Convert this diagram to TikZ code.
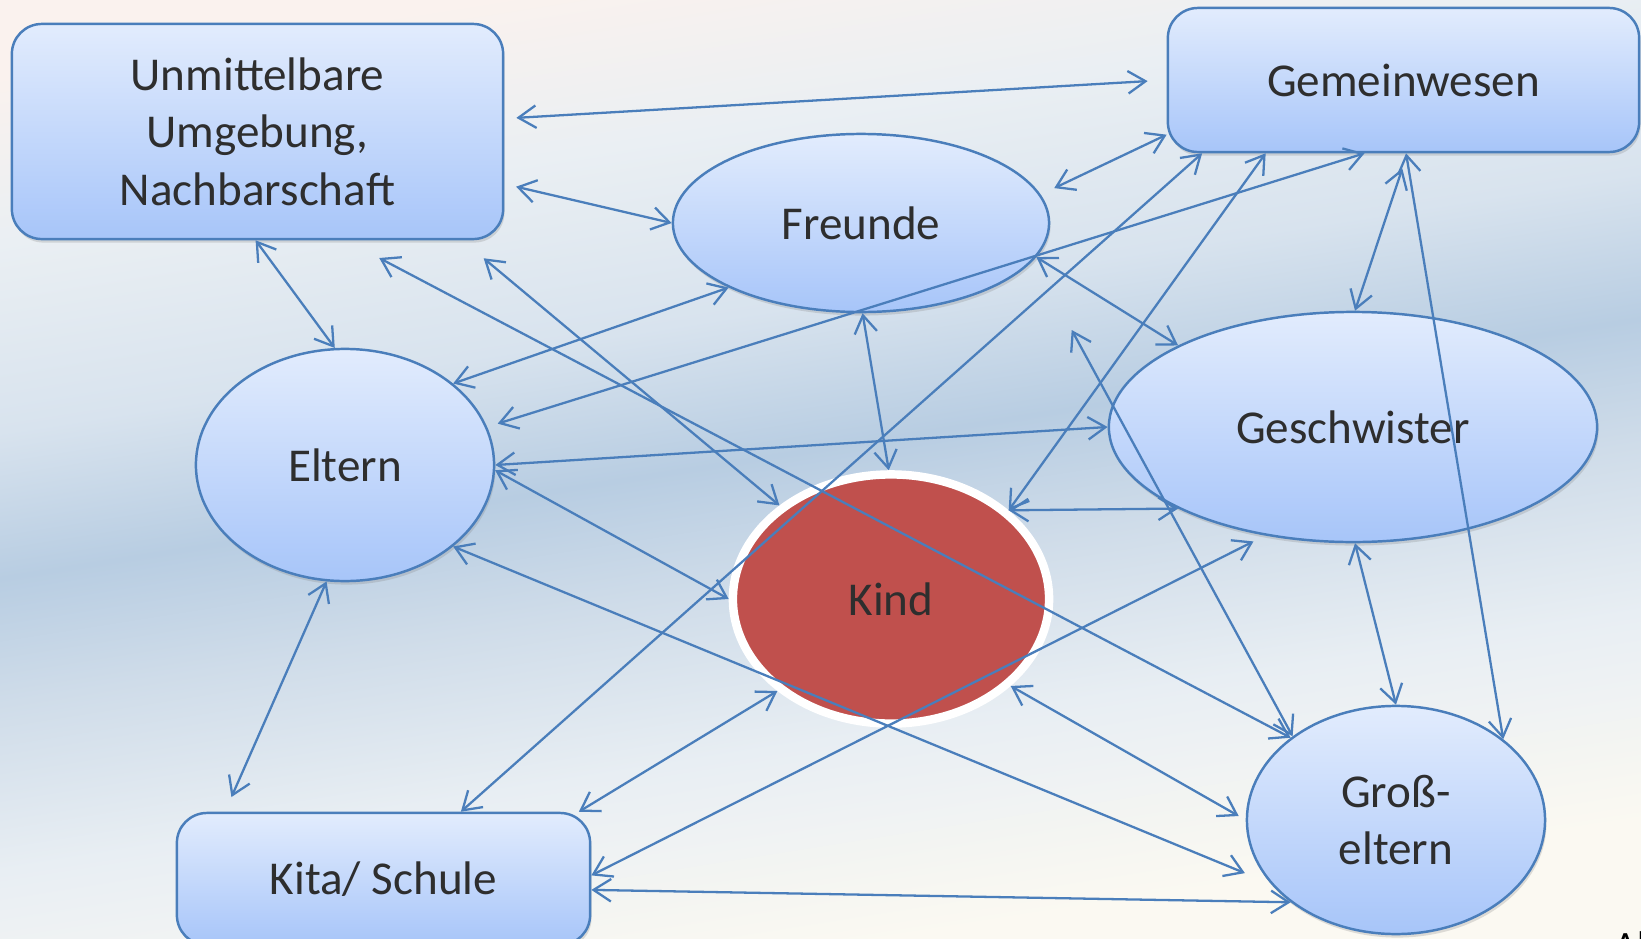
\documentclass[tikz,border=0pt]{standalone}
\usepackage{fontspec}
\setmainfont{Carlito}
\usetikzlibrary{arrows.meta,shadows,shapes.geometric}

\definecolor{bgtop}{HTML}{FAF2EE}
\definecolor{bghigh}{HTML}{D8E3EE}
\definecolor{bgmix}{HTML}{EAEFF3}
\definecolor{bgband}{HTML}{B8CDE2}
\definecolor{bglow}{HTML}{CFDCE9}
\definecolor{bglowmix}{HTML}{E8EEF3}
\definecolor{bgbot}{HTML}{FBF9F2}
\definecolor{nodetop}{HTML}{E2ECFD}
\definecolor{nodebot}{HTML}{A7C5F9}
\definecolor{nodeline}{HTML}{4A7EBB}
\definecolor{linkblue}{HTML}{4A7EBB}
\definecolor{kindred}{HTML}{C0504D}
\definecolor{txt}{HTML}{2E2E2E}

\pgfdeclareverticalshading{bgshade}{100bp}{color(0bp)=(bgbot); color(27bp)=(bgbot);
  color(37bp)=(bglowmix); color(45bp)=(bglow); color(51bp)=(bgband);
  color(58bp)=(bghigh); color(67bp)=(bgmix); color(75bp)=(bgtop); color(100bp)=(bgtop)}

\begin{document}
\begin{tikzpicture}[
  x=0.01cm, y=-0.01cm,
  font=\fontsize{13.4}{16.4}\selectfont,
  box/.style={draw=nodeline, line width=0.7pt, rounded corners=0.3cm, top color=nodetop,
    bottom color=nodebot, text=txt, align=center, inner sep=0pt,
    drop shadow={shadow xshift=0.4pt, shadow yshift=-1pt, opacity=0.25}},
  oval/.style={ellipse, draw=nodeline, line width=0.7pt, top color=nodetop,
    bottom color=nodebot, text=txt, align=center, inner sep=0pt,
    drop shadow={shadow xshift=0.4pt, shadow yshift=-1pt, opacity=0.25}},
  kindnode/.style={ellipse, draw=white, line width=2.4pt, fill=kindred, text=txt,
    inner sep=0pt, drop shadow={shadow xshift=0pt, shadow yshift=-1pt, opacity=0.3}},
  link/.style={draw=linkblue, line width=0.65pt,
    {Straight Barb[length=5pt,width=6.4pt]}-{Straight Barb[length=5pt,width=6.4pt]}},
]
\useasboundingbox (0,0) rectangle (1641,939);
\shade[shading=bgshade, shading angle=9] (0,0) rectangle (1641,939);

% Nodes
\node[box, minimum width=4.91cm, minimum height=2.15cm] (umg) at (257.5,131.5)
  {Unmittelbare\\Umgebung,\\Nachbarschaft};
\node[box, minimum width=4.71cm, minimum height=1.44cm] (gem) at (1403.5,80) {Gemeinwesen};
\node[oval, minimum width=3.76cm, minimum height=1.78cm] (fre) at (861,223) {Freunde};
\node[oval, minimum width=2.98cm, minimum height=2.32cm] (elt) at (345,465) {Eltern};
\node[oval, minimum width=4.88cm, minimum height=2.30cm] (ges) at (1353,427) {Geschwister};
\node[kindnode, minimum width=3.16cm, minimum height=2.49cm] (kind) at (891,599) {Kind};
\node[oval, minimum width=2.98cm, minimum height=2.28cm] (gro) at (1396,820) {Groß-\\eltern};
\node[box, minimum width=4.13cm, minimum height=1.32cm] (kita) at (383.5,879) {Kita/ Schule};
\coordinate (lose) at (1071.7,330);

% Umgebung
\draw[link, shorten <=1.2mm, shorten >=1.9mm] (umg.3.7) -- (gem.180);
\draw[link, shorten <=1.2mm] (umg.-12.4) -- (fre.180);
\draw[link] (umg.-91) -- (elt.95);
\draw[link, shorten <=3.8mm] (umg.-51.6) -- (gro.142);
\draw[link, shorten <=2.8mm] (umg.-28.6) -- (kind.140.6);

% Freunde
\draw[link] (fre.206) -- (elt.37.8);
\draw[link, shorten <=1.5mm] (fre.9.7) -- (gem.193);
\draw[link] (fre.-89) -- (kind.91);
\draw[link] (fre.-11) -- (ges.155);

% Eltern
\draw[link, shorten <=1.1mm] (elt.15.3) -- (gem.-118.8);
\draw[link] (elt.0) -- (ges.180);
\draw[link] (elt.-2) -- (kind.180);
\draw[link, shorten >=1.6mm] (elt.-99) -- (kita.157.4);
\draw[link, shorten >=2.8mm] (elt.-37.9) -- (gro.207.4);

% Gemeinwesen
\draw[link] (gem.200.2) -- (kita.41.9);
\draw[link] (gem.208) -- (kind.37.6);
\draw[link, shorten <=1.6mm] (gem.-87.5) -- (ges.89);
\draw[link] (gem.-88) -- (gro.37.3);

% Geschwister
\draw[link] (ges.205) -- (kind.37.6);
\draw[link] (ges.-89) -- (gro.90);
\draw[link, shorten <=1.3mm] (ges.231) -- (kita.1);

% Kind, Kita, Grosseltern
\draw[link] (gro.141) -- (lose);
\draw[link] (kind.219) -- (kita.19.5);
\draw[link, shorten >=0.8mm] (kind.-36.8) -- (gro.180);
\draw[link] (kita.-3) -- (gro.218.7);

\node[anchor=north west, inner sep=0pt, text=black, font=\fontsize{11}{13}\selectfont] (al)
  at (1614,931) {Al};
\end{tikzpicture}
\end{document}
